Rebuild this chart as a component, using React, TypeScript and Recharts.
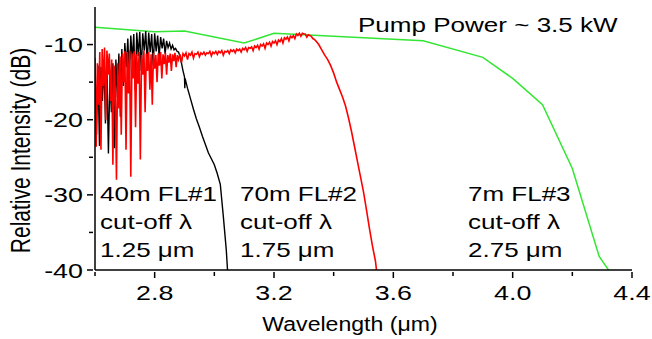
import { LineChart, Line, XAxis, YAxis } from 'recharts';

const FONT = '"Liberation Sans", Arial, sans-serif';

// 40m FL#1 (black)
const fl1: [number, number][] = [
  [2.6, -13.5], [2.605, -22.0], [2.61, -12.8], [2.615, -23.5], [2.62, -13.0], [2.625, -17.5],
  [2.63, -12.2], [2.635, -20.5], [2.64, -13.5], [2.645, -24.5], [2.65, -14.0], [2.655, -19.0],
  [2.66, -12.5], [2.665, -23.8], [2.67, -12.0], [2.675, -17.0], [2.68, -11.2], [2.685, -19.6],
  [2.69, -10.6], [2.695, -15.5], [2.7, -9.8], [2.705, -13.0], [2.71, -9.2], [2.715, -14.5],
  [2.72, -8.8], [2.725, -12.0], [2.73, -8.6], [2.735, -16.0], [2.74, -8.4], [2.745, -11.5],
  [2.75, -8.3], [2.755, -13.5], [2.76, -8.5], [2.765, -10.8], [2.77, -8.2], [2.775, -12.5],
  [2.78, -8.4], [2.785, -11.0], [2.79, -8.6], [2.795, -12.8], [2.8, -8.5], [2.805, -10.9],
  [2.81, -8.8], [2.815, -11.6], [2.82, -9.0], [2.825, -10.5], [2.83, -9.2], [2.835, -11.2],
  [2.84, -9.5], [2.845, -10.4], [2.85, -9.8], [2.855, -10.6], [2.86, -10.1], [2.865, -10.7],
  [2.87, -10.5], [2.875, -10.9], [2.88, -11.0], [2.885, -11.6], [2.89, -12.5], [2.895, -13.5],
  [2.9, -14.3], [2.901, -15.8], [2.902, -14.5], [2.91, -15.8], [2.92, -17.2], [2.93, -18.6],
  [2.94, -19.9], [2.95, -21.0], [2.96, -22.2], [2.97, -23.3], [2.98, -24.4], [2.99, -25.2],
  [3.0, -26.0], [3.01, -27.2], [3.02, -28.6], [3.03, -32.8], [3.04, -37.3], [3.045, -40.5],
];

// 70m FL#2 (red)
const fl2: [number, number][] = [
  [2.6, -11.8], [2.604, -23.6], [2.608, -12.5], [2.612, -18.0], [2.616, -11.0], [2.62, -24.0],
  [2.624, -10.6], [2.628, -15.5], [2.632, -10.4], [2.636, -20.0], [2.64, -10.8], [2.644, -14.0],
  [2.648, -11.2], [2.652, -17.5], [2.656, -12.0], [2.66, -26.0], [2.664, -12.8], [2.668, -16.0],
  [2.672, -28.0], [2.676, -12.5], [2.68, -18.5], [2.684, -11.6], [2.688, -22.0], [2.692, -11.2],
  [2.696, -15.0], [2.7, -10.9], [2.704, -24.0], [2.708, -11.0], [2.712, -16.5], [2.716, -10.8],
  [2.72, -27.6], [2.724, -11.2], [2.728, -14.5], [2.732, -10.9], [2.736, -21.0], [2.74, -11.3],
  [2.744, -15.2], [2.748, -11.0], [2.752, -25.3], [2.756, -11.4], [2.76, -14.0], [2.764, -10.8],
  [2.768, -19.0], [2.772, -11.2], [2.776, -13.5], [2.78, -11.0], [2.784, -16.0], [2.788, -11.3],
  [2.792, -18.0], [2.796, -11.1], [2.8, -13.2], [2.804, -11.4], [2.808, -15.0], [2.812, -11.2],
  [2.816, -12.8], [2.82, -11.0], [2.824, -14.5], [2.828, -11.3], [2.832, -12.6], [2.836, -11.1],
  [2.84, -14.0], [2.844, -11.4], [2.848, -12.4], [2.852, -11.2], [2.856, -13.5], [2.86, -11.3],
  [2.864, -12.2], [2.868, -11.1], [2.872, -13.0], [2.876, -11.4], [2.88, -12.0],
  [2.885, -11.3], [2.89, -12.4], [2.895, -11.2], [2.9, -11.5], [2.905, -11.1], [2.91, -12.0],
  [2.915, -11.2], [2.92, -11.4], [2.925, -11.0], [2.93, -11.8], [2.935, -11.2], [2.94, -11.3],
  [2.945, -11.0], [2.95, -11.6], [2.955, -11.1], [2.96, -11.3], [2.965, -11.0], [2.97, -11.4],
  [2.975, -11.1], [2.98, -11.2], [2.985, -10.9], [2.99, -11.5], [2.995, -11.0], [3.0, -11.2],
  [3.005, -10.9], [3.01, -11.3], [3.015, -10.9], [3.02, -11.1], [3.025, -10.8], [3.03, -11.4],
  [3.035, -10.9], [3.04, -11.0], [3.045, -10.8], [3.05, -11.2], [3.055, -10.7], [3.06, -10.9],
  [3.065, -10.7], [3.07, -11.1], [3.075, -10.6], [3.08, -10.8], [3.085, -10.6], [3.09, -11.0],
  [3.095, -10.5], [3.1, -10.7], [3.105, -10.4], [3.11, -10.9], [3.115, -10.4], [3.12, -10.5],
  [3.125, -10.3], [3.13, -10.8], [3.135, -10.2], [3.14, -10.4], [3.145, -10.1], [3.15, -10.6],
  [3.155, -10.0], [3.16, -10.2], [3.165, -9.9], [3.17, -10.5], [3.175, -9.8], [3.18, -10.0],
  [3.185, -9.7], [3.19, -10.2], [3.195, -9.6], [3.2, -9.8], [3.205, -9.5], [3.21, -10.0],
  [3.215, -9.4], [3.22, -9.6], [3.225, -9.2], [3.23, -9.8], [3.235, -9.1], [3.24, -9.3],
  [3.245, -9.0], [3.25, -9.5], [3.255, -8.9], [3.26, -9.1], [3.265, -8.8], [3.27, -9.2],
  [3.275, -8.6], [3.28, -8.8], [3.285, -8.5], [3.29, -8.9], [3.295, -8.5], [3.3, -8.6],
  [3.305, -8.6], [3.31, -9.0], [3.315, -8.7], [3.32, -8.8], [3.325, -8.9], [3.33, -9.2],
  [3.335, -9.3], [3.34, -9.5], [3.35, -10.0], [3.36, -10.7], [3.37, -11.4],
  [3.38, -12.0], [3.39, -12.8], [3.4, -13.8], [3.41, -15.0], [3.42, -16.0], [3.43, -17.0],
  [3.44, -18.2], [3.45, -19.8], [3.46, -21.6], [3.47, -23.6], [3.48, -25.6], [3.49, -27.6],
  [3.5, -29.6], [3.51, -32.0], [3.52, -34.5], [3.53, -36.8], [3.54, -38.8], [3.545, -40.5],
];

// 7m FL#3 (green)
const fl3: [number, number][] = [
  [2.6, -7.7], [2.8, -8.3], [2.9, -8.2], [3.1, -9.8], [3.2, -8.5], [3.4, -8.9],
  [3.7, -9.5], [3.9, -11.7], [4.0, -14.5], [4.1, -18.0], [4.2, -26.5], [4.29, -38.2], [4.33, -40.5],
];

const xTicks = [2.6, 2.8, 3.0, 3.2, 3.4, 3.6, 3.8, 4.0, 4.2, 4.4];
const xLabels = ['2.8', '3.2', '3.6', '4.0', '4.4'];
const yTicks = [-40, -35, -30, -25, -20, -15, -10];
const yLabels = ['-10', '-20', '-30', '-40'];

const toRows = (pts: [number, number][]) => pts.map(([wl, db]) => ({ wl, db }));

const XTick = (props: any) => {
  const { x, y, payload } = props;
  const label = payload.value.toFixed(1);
  const major = xLabels.includes(label);
  return (
    <g>
      <line x1={x} y1={y} x2={x} y2={y + (major ? 6 : 4)} stroke="#000" strokeWidth={1.5} />
      {major && (
        <text transform={`translate(${x},${y + 28}) scale(1.28,1)`} textAnchor="middle" fontSize={21} fontFamily={FONT} fill="#000">
          {label}
        </text>
      )}
    </g>
  );
};

const YTick = (props: any) => {
  const { x, y, payload } = props;
  const label = String(payload.value);
  const major = yLabels.includes(label);
  return (
    <g>
      <line x1={x - (major ? 6 : 4)} y1={y} x2={x} y2={y} stroke="#000" strokeWidth={1.5} />
      {major && (
        <text transform={`translate(${x - 10},${y + 7.5}) scale(1.28,1)`} textAnchor="end" fontSize={21} fontFamily={FONT} fill="#000">
          {label}
        </text>
      )}
    </g>
  );
};

const notes = [
  { x: 100, lines: ['40m FL#1', 'cut-off λ', '1.25 μm'] },
  { x: 240, lines: ['70m FL#2', 'cut-off λ', '1.75 μm'] },
  { x: 468, lines: ['7m FL#3', 'cut-off λ', '2.75 μm'] },
];

export default function App() {
  return (
    <div style={{ position: 'absolute', left: 0, top: 0, width: 652, height: 339, background: '#fff' }}>
      <LineChart width={652} height={339} margin={{ top: 7, right: 20, left: 0, bottom: 0 }}>
        <XAxis
          type="number"
          dataKey="wl"
          domain={[2.6, 4.4]}
          ticks={xTicks}
          interval={0}
          allowDataOverflow
          height={69}
          tickSize={0}
          tickLine={false}
          tick={<XTick />}
          axisLine={{ stroke: '#000', strokeWidth: 1.5 }}
        />
        <YAxis
          type="number"
          dataKey="db"
          domain={[-40, -5]}
          ticks={yTicks}
          interval={0}
          allowDataOverflow
          width={95}
          tickSize={0}
          tickLine={false}
          tick={<YTick />}
          axisLine={{ stroke: '#000', strokeWidth: 1.5 }}
        />
        <Line data={toRows(fl3)} dataKey="db" stroke="#33e633" strokeWidth={1.5} dot={false} isAnimationActive={false} />
        <Line data={toRows(fl1)} dataKey="db" stroke="#000" strokeWidth={1.4} dot={false} isAnimationActive={false} />
        <Line data={toRows(fl2)} dataKey="db" stroke="#ff0000" strokeWidth={1.6} dot={false} isAnimationActive={false} />
      </LineChart>
      <svg width={652} height={339} style={{ position: 'absolute', left: 0, top: 0, pointerEvents: 'none' }} fontFamily={FONT} fill="#000">
        <text transform="translate(358,31.5) scale(1.24,1)" fontSize={21}>Pump Power ~ 3.5 kW</text>
        {notes.map((n) =>
          n.lines.map((t, i) => (
            <text key={n.x + t} transform={`translate(${n.x},${200.5 + i * 28}) scale(1.3,1)`} fontSize={20}>
              {t}
            </text>
          ))
        )}
        <text transform="translate(350,331) scale(1.1,1)" textAnchor="middle" fontSize={21}>Wavelength (μm)</text>
        <text transform="translate(30,150.5) rotate(-90) scale(1,1.3)" textAnchor="middle" fontSize={21}>Relative Intensity (dB)</text>
      </svg>
    </div>
  );
}
